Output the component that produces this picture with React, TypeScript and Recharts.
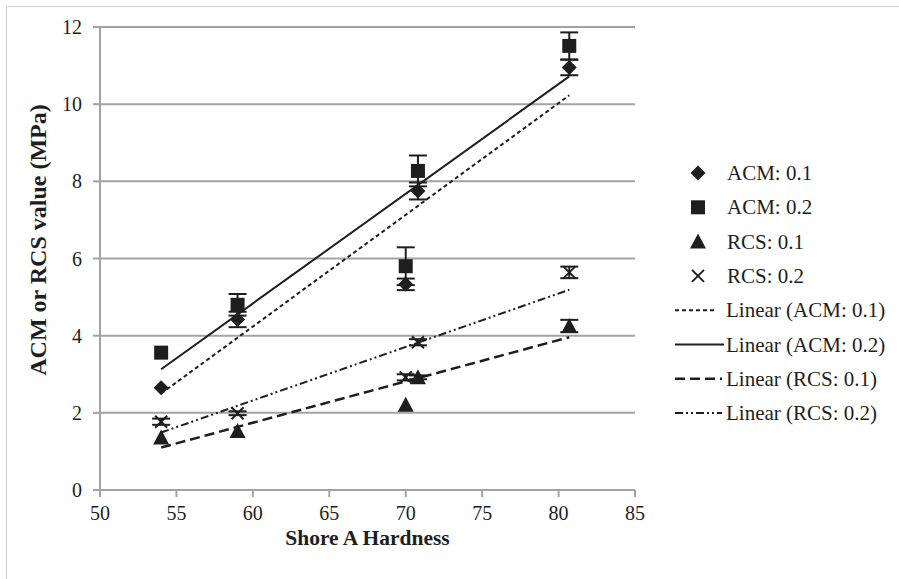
import React from "react";
import {
  ComposedChart,
  Scatter,
  ErrorBar,
  XAxis,
  YAxis,
  CartesianGrid,
  Label,
} from "recharts";

// Shore A hardness of the five samples
const hardness = [54, 59, 70, 70.8, 80.7];

// measured values (MPa) and their error bars
const acm01 = [2.65, 4.42, 5.33, 7.75, 10.95];
const acm01Err = [0, 0.2, 0.15, 0.22, 0.2];
const acm02 = [3.56, 4.8, 5.8, 8.27, 11.51];
const acm02Err = [0, 0.28, 0.49, 0.4, 0.35];
const rcs01 = [1.36, 1.53, 2.21, 2.92, 4.25];
const rcs01Err = [0, 0, 0, 0.05, 0.16];
const rcs02 = [1.77, 1.99, 2.92, 3.83, 5.64];
const rcs02Err = [0.08, 0.05, 0.08, 0.08, 0.15];

// linear trendline end points
const trendX = [54, 80.7];
const trendAcm01 = [2.5, 10.23];
const trendAcm02 = [3.13, 10.72];
const trendRcs01 = [1.1, 3.96];
const trendRcs02 = [1.49, 5.19];

const xTicks = [50, 55, 60, 65, 70, 75, 80, 85];
const yTicks = [0, 2, 4, 6, 8, 10, 12];

const INK = "#1e1e1e";
const GRID = "#a3a3a3";
const FONT = "'Liberation Serif', 'Times New Roman', serif";

const pts = (ys: number[], errs?: number[]) =>
  hardness.map((x, i) => ({ x, y: ys[i], err: errs ? errs[i] : 0 }));
const trend = (ys: number[]) => trendX.map((x, i) => ({ x, y: ys[i] }));

type Mark = "diamond" | "square" | "triangle" | "x";

const drawMark = (kind: Mark, cx: number, cy: number) => {
  if (kind === "diamond")
    return (
      <polygon
        points={`${cx},${cy - 7.5} ${cx + 7.5},${cy} ${cx},${cy + 7.5} ${cx - 7.5},${cy}`}
        fill={INK}
      />
    );
  if (kind === "square")
    return <rect x={cx - 7} y={cy - 7} width={14} height={14} fill={INK} />;
  if (kind === "triangle")
    return (
      <polygon
        points={`${cx},${cy - 8} ${cx + 8},${cy + 7} ${cx - 8},${cy + 7}`}
        fill={INK}
      />
    );
  return (
    <g stroke={INK} strokeWidth={2}>
      <line x1={cx - 6} y1={cy - 6} x2={cx + 6} y2={cy + 6} />
      <line x1={cx - 6} y1={cy + 6} x2={cx + 6} y2={cy - 6} />
    </g>
  );
};

const markShape = (kind: Mark) => (props: any) =>
  props.cx == null ? <g /> : <g>{drawMark(kind, props.cx, props.cy)}</g>;

const noShape = () => <g />;

const pointSeries: { name: string; ys: number[]; errs: number[]; mark: Mark }[] = [
  { name: "ACM: 0.1", ys: acm01, errs: acm01Err, mark: "diamond" },
  { name: "ACM: 0.2", ys: acm02, errs: acm02Err, mark: "square" },
  { name: "RCS: 0.1", ys: rcs01, errs: rcs01Err, mark: "triangle" },
  { name: "RCS: 0.2", ys: rcs02, errs: rcs02Err, mark: "x" },
];

const trendSeries = [
  { name: "Linear (ACM: 0.1)", ys: trendAcm01, dash: "4 3", w: 2, end: 57 },
  { name: "Linear (ACM: 0.2)", ys: trendAcm02, dash: undefined, w: 2, end: 64 },
  { name: "Linear (RCS: 0.1)", ys: trendRcs01, dash: "10 5", w: 2.5, end: 62 },
  { name: "Linear (RCS: 0.2)", ys: trendRcs02, dash: "8 3 2 3 2 3", w: 2, end: 62 },
];

function LegendBox() {
  const rowY = (i: number) => 173 + i * 34.3;
  return (
    <svg
      width={230}
      height={300}
      style={{ position: "absolute", left: 660, top: 0, overflow: "visible" }}
    >
      {pointSeries.map((s, i) => (
        <g key={s.name}>
          {drawMark(s.mark, 38, rowY(i))}
          <text x={67} y={rowY(i)} dominantBaseline="central" fontFamily={FONT} fontSize={21} fill={INK}>
            {s.name}
          </text>
        </g>
      ))}
      {trendSeries.map((s, j) => {
        const y = rowY(j + 4);
        return (
          <g key={s.name}>
            <line x1={15} x2={s.end} y1={y} y2={y} stroke={INK} strokeWidth={s.w} strokeDasharray={s.dash} />
            <text x={66} y={y} dominantBaseline="central" fontFamily={FONT} fontSize={21} fill={INK}>
              {s.name}
            </text>
          </g>
        );
      })}
    </svg>
  );
}

const yTitle = () => (
  <text
    transform="translate(38,240) rotate(-90)"
    textAnchor="middle"
    dominantBaseline="central"
    fontFamily={FONT}
    fontSize={24}
    fontWeight="bold"
    fill={INK}
  >
    ACM or RCS value (MPa)
  </text>
);

export default function App() {
  return (
    <div
      style={{
        position: "absolute",
        left: 0,
        top: 0,
        width: 899,
        height: 579,
        background: "#fff",
        overflow: "hidden",
      }}
    >
      <div
        style={{
          position: "absolute",
          left: 6,
          top: 6,
          width: 1000,
          height: 1000,
          borderLeft: "1px solid #cfcfcf",
          borderTop: "1px solid #cfcfcf",
        }}
      />
      <ComposedChart
        width={899}
        height={579}
        margin={{ top: 27, right: 264, bottom: 49, left: 0 }}
        style={{ position: "absolute", left: 0, top: 0 }}
      >
        <CartesianGrid vertical={false} stroke={GRID} strokeWidth={2} />
        <XAxis
          type="number"
          dataKey="x"
          domain={[50, 85]}
          ticks={xTicks}
          interval={0}
          height={40}
          stroke={GRID}
          strokeWidth={2}
          tickSize={7}
          tickMargin={9}
          tick={{ fill: INK, fontFamily: FONT, fontSize: 20 }}
        >
          <Label
            value="Shore A Hardness"
            position="insideBottom"
            offset={-15}
            style={{ fill: INK, fontFamily: FONT, fontSize: 21.5, fontWeight: "bold" }}
          />
        </XAxis>
        <YAxis
          type="number"
          dataKey="y"
          domain={[0, 12]}
          ticks={yTicks}
          interval={0}
          width={100}
          stroke={GRID}
          strokeWidth={2}
          tickSize={7}
          tickMargin={11}
          tick={{ fill: INK, fontFamily: FONT, fontSize: 20 }}
        >
          <Label content={yTitle} />
        </YAxis>
        {trendSeries.map((s) => (
          <Scatter
            key={s.name}
            name={s.name}
            data={trend(s.ys)}
            fill={INK}
            shape={noShape}
            line={{ stroke: INK, strokeWidth: s.w, strokeDasharray: s.dash, fill: "none" }}
            lineType="joint"
            isAnimationActive={false}
          />
        ))}
        {pointSeries.map((s) => (
          <Scatter
            key={s.name}
            name={s.name}
            data={pts(s.ys, s.errs)}
            fill={INK}
            shape={markShape(s.mark)}
            isAnimationActive={false}
          >
            <ErrorBar dataKey="err" direction="y" width={9} stroke={INK} strokeWidth={2} />
          </Scatter>
        ))}
      </ComposedChart>
      <LegendBox />
    </div>
  );
}
